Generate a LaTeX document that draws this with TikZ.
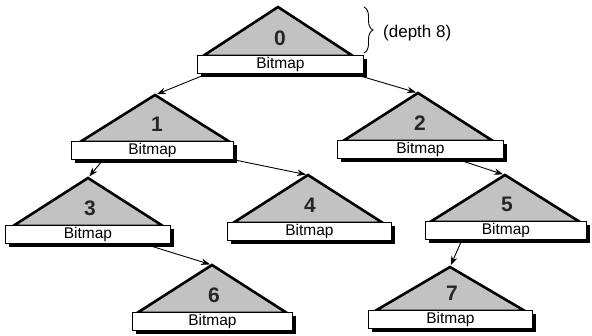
\documentclass[tikz,border=0pt]{standalone}
\usepackage{fontspec}
\setmainfont{Liberation Sans}
\usetikzlibrary{arrows.meta,decorations.pathreplacing,calc}
\newcommand\bitunit[6]{%
  \pgfmathsetmacro\bw{#5-#4}%
  \fill[barshadow] (#4+4,#6+4) rectangle (#5+4,#6+22);
  \coordinate (t#1) at (#2,#3);
  \draw[tri] (#2-75,#6+1) -- (t#1) -- (#2+75,#6+1) -- cycle;
  \node[bar, minimum width=\bw pt, minimum height=18pt] (b#1) at (#4,#6) {Bitmap};
  \node[num] (n#1) at (#2+2,#6-17) {#1};
}
\begin{document}
\begin{tikzpicture}[x=1pt,y=-1pt,
  tri/.style={fill=gray!48, draw=black, line width=2.6pt, line join=miter},
  bar/.style={draw=black, fill=white, line width=0.8pt, inner sep=0pt,
    font=\fontsize{15.5}{15.5}\selectfont, anchor=north west},
  barshadow/.style={fill=black},
  num/.style={font=\fontsize{21}{21}\selectfont\bfseries, text=black!85},
  link/.style={line width=0.9pt, shorten >=2pt, -{Stealth[length=9pt,width=6.5pt]}},
  lbl/.style={font=\fontsize{17}{17}\selectfont, anchor=west, inner sep=0pt},
  brace/.style={decorate, decoration={brace, amplitude=9pt}, line width=0.9pt}
]
\useasboundingbox (0,0) rectangle (592,336);
\bitunit{0}{278}{7}{197}{363}{55}
\bitunit{1}{155}{95}{71}{233}{141}
\bitunit{2}{418}{93}{337}{503}{140}
\bitunit{3}{88}{178}{5}{170}{225}
\bitunit{4}{308}{175}{227}{391}{222}
\bitunit{5}{505}{175}{425}{586}{221}
\bitunit{6}{212}{265}{132}{292}{312}
\bitunit{7}{450}{267}{368}{532}{310}
\coordinate (brtop) at (364,7);
\coordinate (brbot) at (364,53);
\draw[brace] (brtop) -- (brbot);
\node[lbl] (depth) at (383,33) {(depth 8)};
\draw[link] ([xshift=10pt]b0.south west) -- (t1);
\draw[link] ([xshift=-11pt]b0.south east) -- (t2);
\draw[link] ([xshift=32pt]b1.south west) -- (t3);
\draw[link] (b1.south east) -- (t4);
\draw[link] ([xshift=-48pt]b2.south east) -- (t5);
\draw[link] ([xshift=-27pt]b3.south east) -- (t6);
\draw[link] ([xshift=37pt]b5.south west) -- (t7);
\end{tikzpicture}
\end{document}
